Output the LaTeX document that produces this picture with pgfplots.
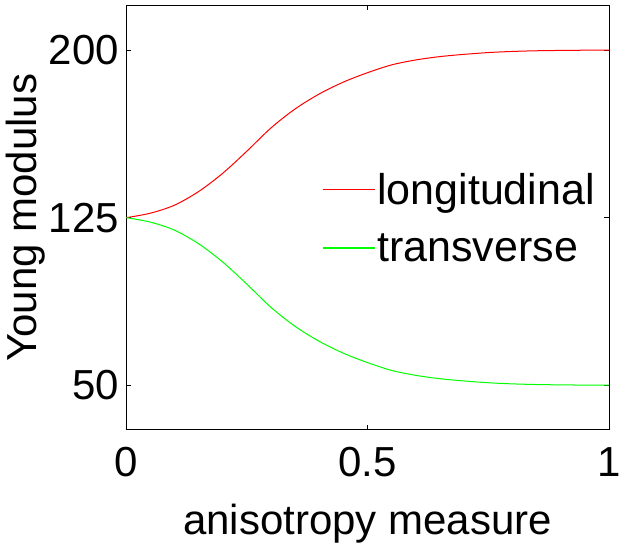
\documentclass[border={6bp 0bp 11bp 5bp}]{standalone}
\usepackage{fontspec}
\setmainfont{Liberation Sans}
\usepackage{pgfplots}
\pgfplotsset{compat=1.18}

\begin{document}
\begin{tikzpicture}[font=\fontsize{42}{48}\selectfont, trim axis right]
  \begin{axis}[
      scale only axis,
      width=481bp, height=423bp,
      xmin=0, xmax=1, ymin=30, ymax=220,
      xtick={0,0.5,1}, ytick={50,125,200},
      tick align=inside,
      major tick length=5bp,
      /pgf/number format/assume math mode=true,
      tick label style={font=\fontsize{42}{48}\selectfont},
      xticklabel style={yshift=-14bp},
      yticklabel style={xshift=-4bp},
      xlabel={anisotropy measure},
      ylabel={Young modulus},
      xlabel style={inner sep=0pt, yshift=-23bp},
      ylabel style={inner sep=0pt},
      axis line style={line width=0.8bp},
      every tick/.style={black, line width=0.8bp},
      legend style={draw=none, fill=none, at={(0.405,0.499)}, anchor=west,
                    row sep=23bp, inner sep=0pt,
                    font=\fontsize{43}{48}\selectfont},
      legend cell align=left,
      legend image code/.code={\draw[#1] (0bp,0bp) -- (52bp,0bp);},
    ]
    \addlegendimage{red, line width=1.2bp}
    \addlegendentry{longitudinal}
    \addlegendimage{green, line width=1.2bp}
    \addlegendentry{transverse}
    \addplot[red, line width=1bp, smooth, forget plot] coordinates {
      (0,125) (0.05,127) (0.1,130.6) (0.15,136.7) (0.2,144.9) (0.25,154.8)
      (0.3,165.2) (0.35,173.7) (0.4,180.4) (0.45,185.7) (0.5,189.9) (0.55,193.4)
      (0.6,195.6) (0.65,197.1) (0.7,198.1) (0.75,198.9) (0.8,199.4) (0.85,199.7)
      (0.9,199.85) (0.95,199.95) (1,200)
    };
    \addplot[green, line width=1bp, smooth, forget plot] coordinates {
      (0,125) (0.05,123) (0.1,119.4) (0.15,113.3) (0.2,105.1) (0.25,95.2)
      (0.3,84.8) (0.35,76.3) (0.4,69.6) (0.45,64.3) (0.5,60.1) (0.55,56.6)
      (0.6,54.4) (0.65,52.9) (0.7,51.9) (0.75,51.1) (0.8,50.6) (0.85,50.3)
      (0.9,50.15) (0.95,50.05) (1,50)
    };
  \end{axis}
\end{tikzpicture}
\end{document}
